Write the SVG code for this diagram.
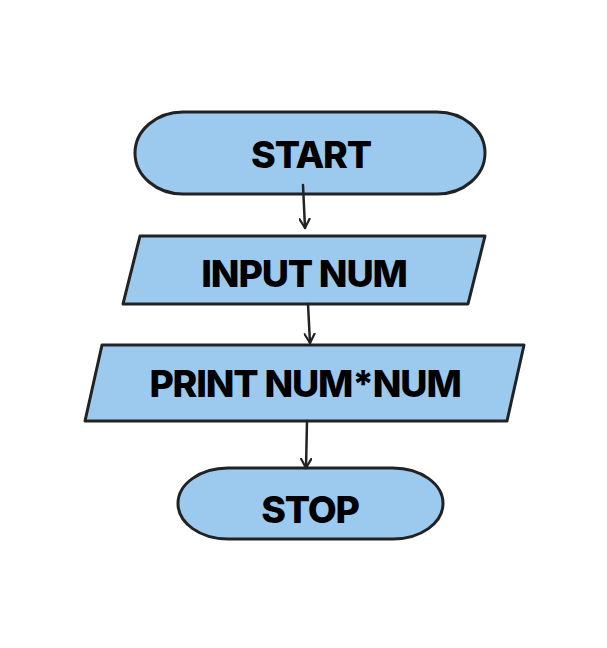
<svg xmlns="http://www.w3.org/2000/svg" width="607" height="648" viewBox="0 0 607 648">
<defs>
<style>
.shape{fill:#9ccaef;stroke:#222;stroke-width:3;stroke-linejoin:round}
.lbl{font-family:Inter,"Liberation Sans",sans-serif;font-weight:800;font-size:37.5px;fill:#000;text-anchor:middle;letter-spacing:-1.2px}
.conn{stroke:#222;stroke-width:2.5;fill:none;stroke-linecap:round}
</style>
<marker id="arr" viewBox="0 0 12 12" refX="10" refY="6" markerWidth="12" markerHeight="12" markerUnits="userSpaceOnUse" orient="auto">
<path d="M1,1 L10,6 L1,11" fill="none" stroke="#222" stroke-width="2.2" stroke-linecap="round" stroke-linejoin="round"/>
</marker>
</defs>
<rect width="607" height="648" fill="#fff"/>
<g id="start">
<rect class="shape" x="135" y="112" width="350" height="82" rx="48" ry="41"/>
<text class="lbl" x="311" y="168">START</text>
</g>
<g id="input">
<polygon class="shape" points="140,236 485,236 468,304 123,304"/>
<text class="lbl" x="304" y="287">INPUT NUM</text>
</g>
<g id="print">
<polygon class="shape" points="102,345 524,345 507,421 85,421"/>
<text class="lbl" x="305" y="397">PRINT NUM*NUM</text>
</g>
<g id="stop">
<rect class="shape" x="178" y="468" width="265" height="71" rx="50" ry="35.5"/>
<text class="lbl" x="310" y="523">STOP</text>
</g>
<g id="connectors">
<line class="conn" x1="303" y1="185" x2="305" y2="228" marker-end="url(#arr)"/>
<line class="conn" x1="308" y1="304" x2="310" y2="343" marker-end="url(#arr)"/>
<line class="conn" x1="307" y1="421" x2="306" y2="468" marker-end="url(#arr)"/>
</g>
</svg>
